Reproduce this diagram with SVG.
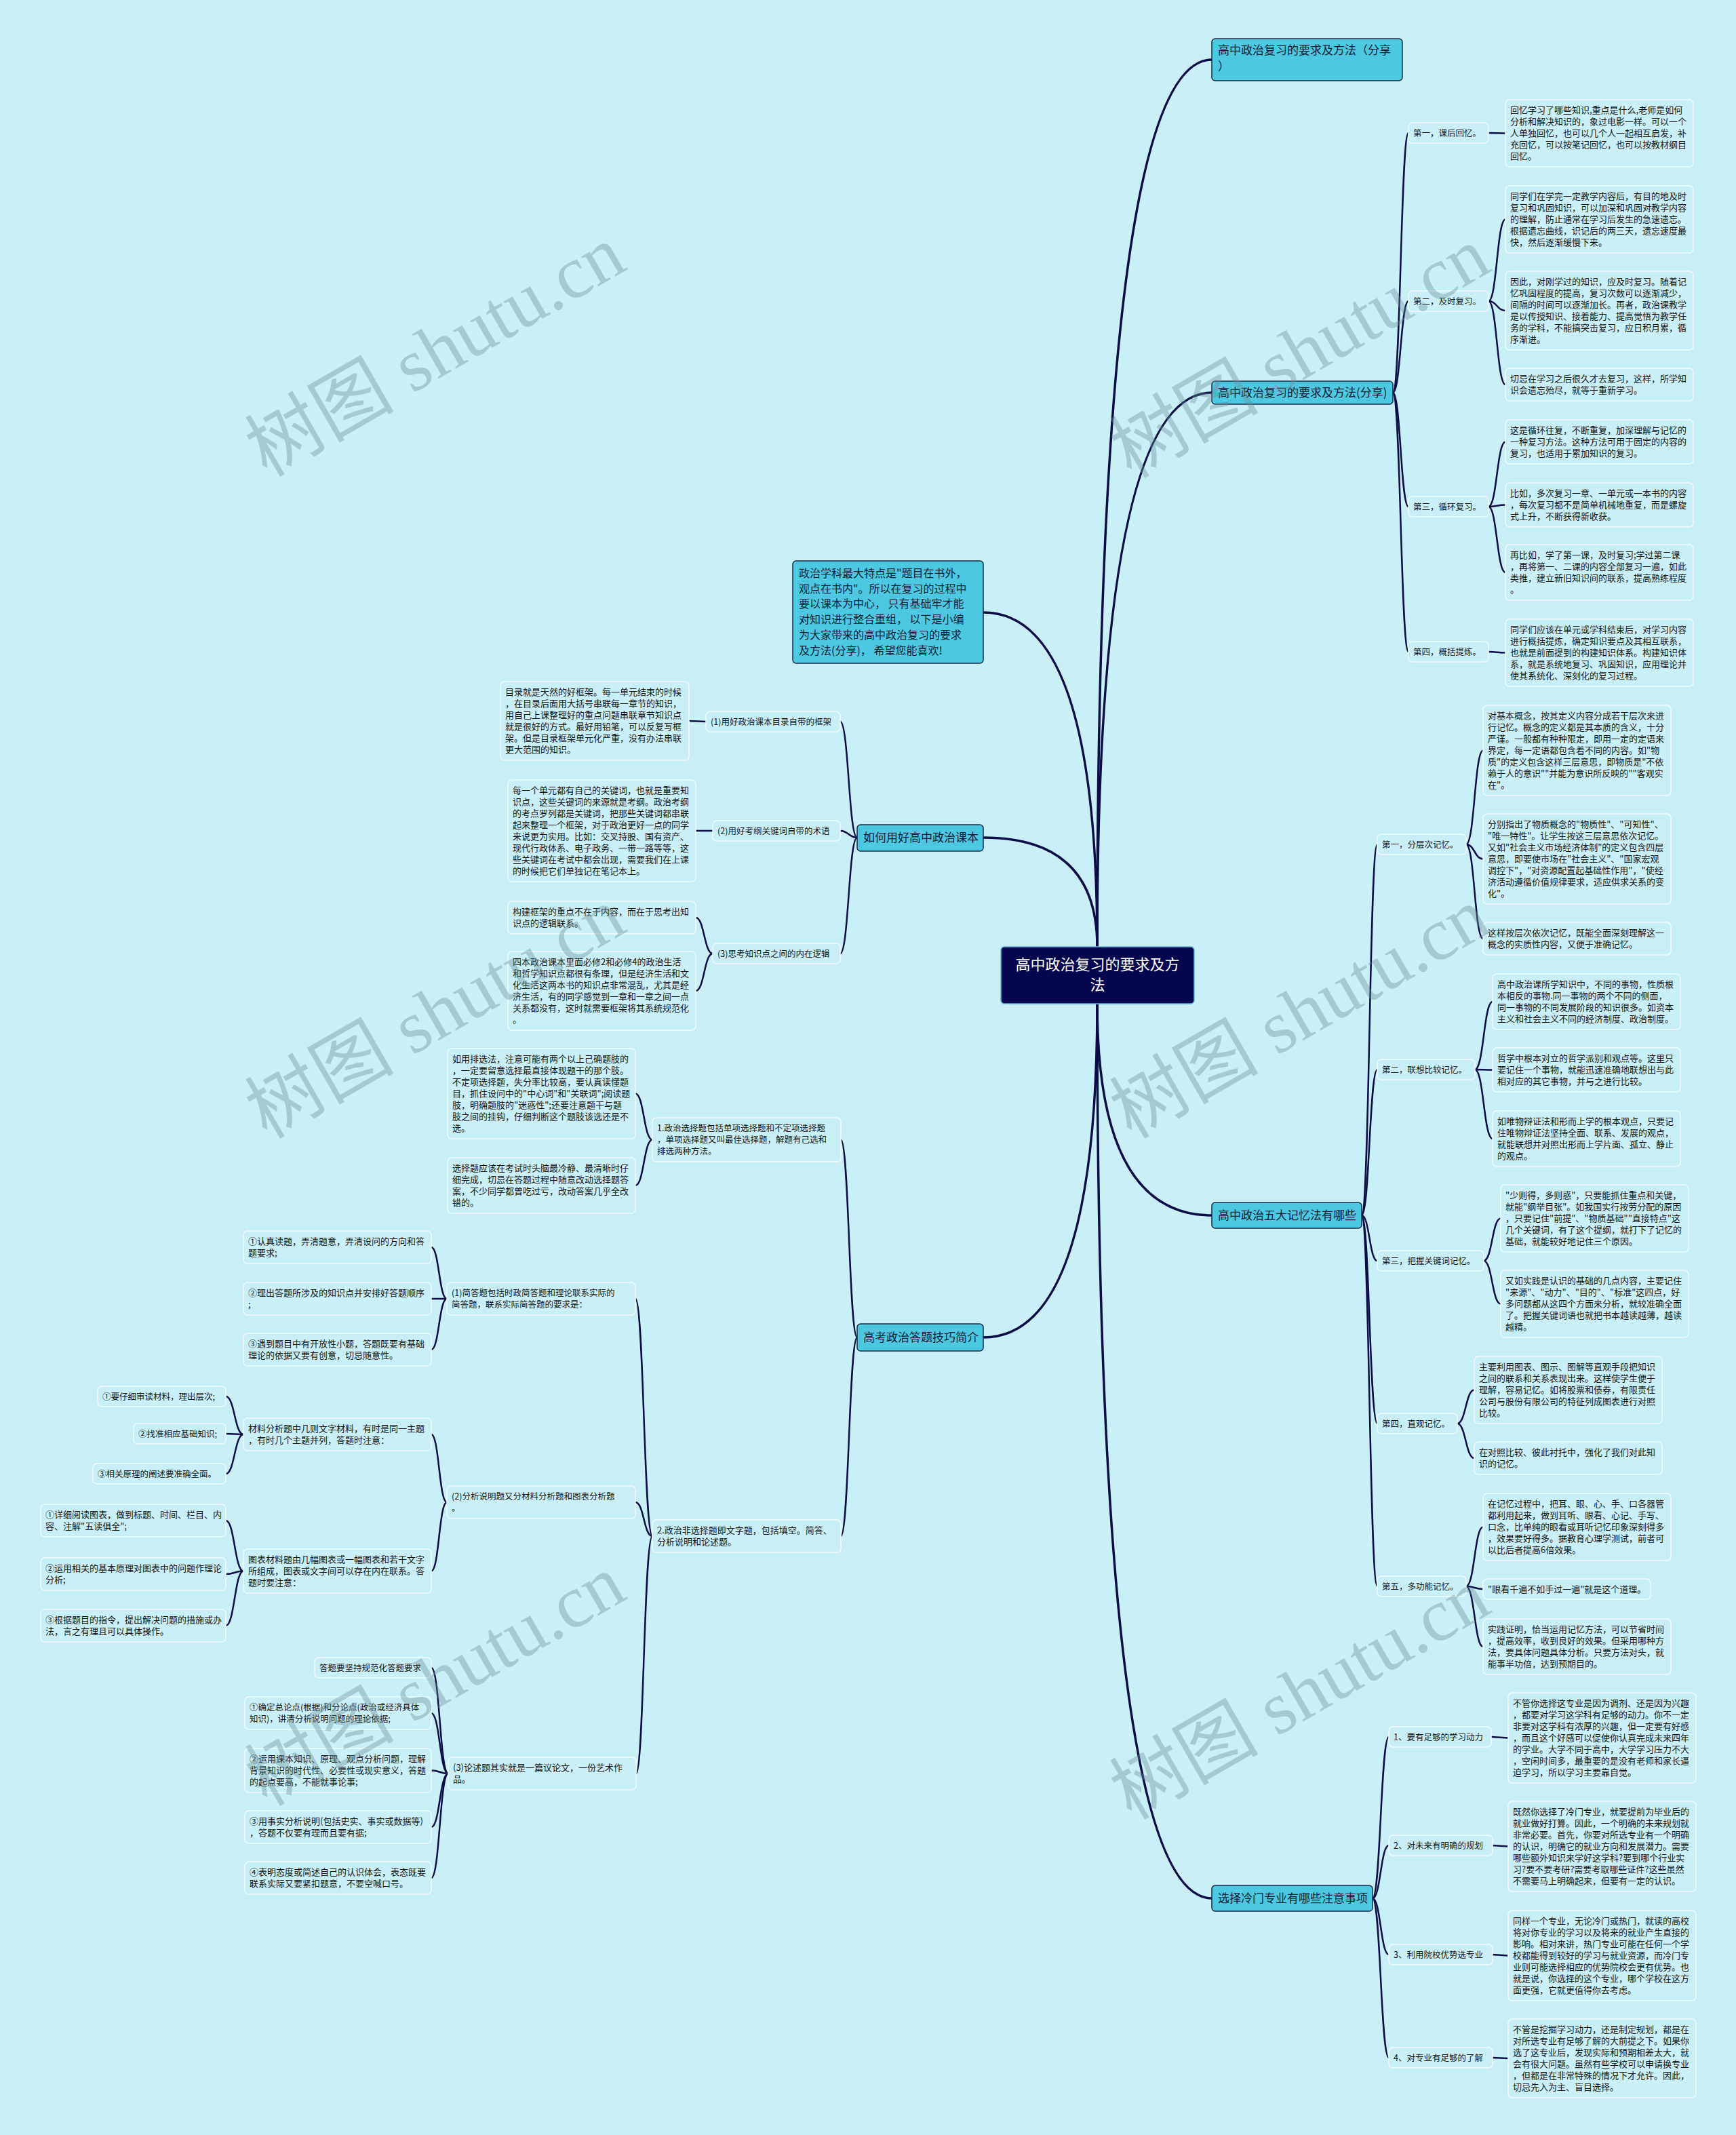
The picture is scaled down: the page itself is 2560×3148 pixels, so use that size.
<svg xmlns="http://www.w3.org/2000/svg" width="2560" height="3148" viewBox="0 0 2560 3148">
<style>
text{font-family:"Noto Sans CJK SC","Noto Sans",sans-serif;}
.t{font-size:13px;fill:#141414;}
.ts{font-size:12.5px;}
.tm{font-size:17px;fill:#0f1d33;}
.ti{font-size:16px;fill:#0f1d33;}
.tc{font-size:22px;fill:#ffffff;}
.lf{fill:#c9eff7;stroke:#f3fbfd;stroke-width:1.5;}
.mn{fill:#4cc8e2;stroke:#1a2944;stroke-width:1.5;}
.ct{fill:#06064e;stroke:#62b6d6;stroke-width:1.5;}
.ln{fill:none;stroke:#0d0d48;stroke-width:2.5;}
.lm{fill:none;stroke:#0d0d48;stroke-width:3.5;}
.wm{font-family:"Liberation Serif","Noto Sans CJK SC",serif;font-size:110px;fill:#6f8f94;opacity:0.38;}
</style>
<rect x="0" y="0" width="2560" height="3148" fill="#c9eff7"/>

<g id="connectors">
<path class="lm" d="M1618,1396 Q1618,88 1787,88"/>
<path class="lm" d="M1618,1396 Q1618,579 1787,579"/>
<path class="lm" d="M1618,1480 Q1618,1792 1787,1792"/>
<path class="lm" d="M1618,1480 Q1618,2799 1787,2799"/>
<path class="lm" d="M1618,1396 Q1618,903 1450,903"/>
<path class="lm" d="M1618,1396 Q1618,1235 1450,1235"/>
<path class="lm" d="M1618,1480 Q1618,1972 1450,1972"/>

<path class="ln" d="M2054,579 C2065.5,579 2065.5,196 2077,196"/>
<path class="ln" d="M2054,579 C2065.5,579 2065.5,444 2077,444"/>
<path class="ln" d="M2054,579 C2065.5,579 2065.5,747 2077,747"/>
<path class="ln" d="M2054,579 C2065.5,579 2065.5,961 2077,961"/>
<path class="ln" d="M2195,196 C2207.5,196 2207.5,196.5 2220,196.5"/>
<path class="ln" d="M2195,444 C2207.5,444 2207.5,323.5 2220,323.5"/>
<path class="ln" d="M2195,444 C2207.5,444 2207.5,458 2220,458"/>
<path class="ln" d="M2195,444 C2207.5,444 2207.5,567 2220,567"/>
<path class="ln" d="M2195,747 C2207.5,747 2207.5,651.5 2220,651.5"/>
<path class="ln" d="M2195,747 C2207.5,747 2207.5,744.5 2220,744.5"/>
<path class="ln" d="M2195,747 C2207.5,747 2207.5,844 2220,844"/>
<path class="ln" d="M2195,961 C2207.5,961 2207.5,962.5 2220,962.5"/>

<path class="ln" d="M2008,1792 C2019.5,1792 2019.5,1245 2031,1245"/>
<path class="ln" d="M2008,1792 C2019.5,1792 2019.5,1577 2031,1577"/>
<path class="ln" d="M2008,1792 C2019.5,1792 2019.5,1859 2031,1859"/>
<path class="ln" d="M2008,1792 C2019.5,1792 2019.5,2099 2031,2099"/>
<path class="ln" d="M2008,1792 C2019.5,1792 2019.5,2339 2031,2339"/>
<path class="ln" d="M2162,1245 C2174.5,1245 2174.5,1106.5 2187,1106.5"/>
<path class="ln" d="M2162,1245 C2174.5,1245 2174.5,1266.5 2187,1266.5"/>
<path class="ln" d="M2162,1245 C2174.5,1245 2174.5,1384 2187,1384"/>
<path class="ln" d="M2175,1577 C2188,1577 2188,1477 2201,1477"/>
<path class="ln" d="M2175,1577 C2188,1577 2188,1577.5 2201,1577.5"/>
<path class="ln" d="M2175,1577 C2188,1577 2188,1679 2201,1679"/>
<path class="ln" d="M2188,1859 C2200.5,1859 2200.5,1796.5 2213,1796.5"/>
<path class="ln" d="M2188,1859 C2200.5,1859 2200.5,1922.5 2213,1922.5"/>
<path class="ln" d="M2149,2099 C2161.5,2099 2161.5,2049.5 2174,2049.5"/>
<path class="ln" d="M2149,2099 C2161.5,2099 2161.5,2150 2174,2150"/>
<path class="ln" d="M2162,2339 C2174.5,2339 2174.5,2251.5 2187,2251.5"/>
<path class="ln" d="M2162,2339 C2174.5,2339 2174.5,2343 2187,2343"/>
<path class="ln" d="M2162,2339 C2174.5,2339 2174.5,2428 2187,2428"/>

<path class="ln" d="M2024,2799 C2036,2799 2036,2561 2048,2561"/>
<path class="ln" d="M2024,2799 C2036,2799 2036,2721 2048,2721"/>
<path class="ln" d="M2024,2799 C2036,2799 2036,2882 2048,2882"/>
<path class="ln" d="M2024,2799 C2036,2799 2036,3034 2048,3034"/>
<path class="ln" d="M2199,2561 L2224,2562.5"/>
<path class="ln" d="M2201,2721 L2224,2722.5"/>
<path class="ln" d="M2201,2882 L2224,2883.5"/>
<path class="ln" d="M2201,3034 L2224,3035"/>

<path class="ln" d="M1264,1235 C1251.5,1235 1251.5,1064 1239,1064"/>
<path class="ln" d="M1264,1235 C1251.5,1235 1251.5,1225 1239,1225"/>
<path class="ln" d="M1264,1235 C1251.5,1235 1251.5,1406 1239,1406"/>
<path class="ln" d="M1041,1064 L1016,1063"/>
<path class="ln" d="M1051,1225 L1026,1225"/>
<path class="ln" d="M1051,1406 C1038.5,1406 1038.5,1353 1026,1353"/>
<path class="ln" d="M1051,1406 C1038.5,1406 1038.5,1461 1026,1461"/>

<path class="ln" d="M1264,1972 C1252,1972 1252,1680.5 1240,1680.5"/>
<path class="ln" d="M1264,1972 C1252,1972 1252,2265 1240,2265"/>
<path class="ln" d="M962,1680.5 C949.5,1680.5 949.5,1612.5 937,1612.5"/>
<path class="ln" d="M962,1680.5 C949.5,1680.5 949.5,1748 937,1748"/>
<path class="ln" d="M962,2265 C949.5,2265 949.5,1915 937,1915"/>
<path class="ln" d="M962,2265 C949.5,2265 949.5,2215 937,2215"/>
<path class="ln" d="M962,2265 C949.5,2265 949.5,2615 938,2615"/>
<path class="ln" d="M659,1915 C647.5,1915 647.5,1839 636,1839"/>
<path class="ln" d="M659,1915 L636,1915"/>
<path class="ln" d="M659,1915 C647.5,1915 647.5,1990 636,1990"/>
<path class="ln" d="M659,2215 C647.5,2215 647.5,2115 636,2115"/>
<path class="ln" d="M659,2215 C647.5,2215 647.5,2316.5 636,2316.5"/>
<path class="ln" d="M359,2115 C346,2115 346,2059 333,2059"/>
<path class="ln" d="M359,2115 L333,2114"/>
<path class="ln" d="M359,2115 C346,2115 346,2173 333,2173"/>
<path class="ln" d="M359,2316.5 C346,2316.5 346,2242 333,2242"/>
<path class="ln" d="M359,2316.5 C346,2316.5 346,2321 333,2321"/>
<path class="ln" d="M359,2316.5 C346,2316.5 346,2397 333,2397"/>
<path class="ln" d="M661,2615 C648.5,2615 648.5,2459 636,2459"/>
<path class="ln" d="M661,2615 C648.5,2615 648.5,2526 636,2526"/>
<path class="ln" d="M661,2615 C648.5,2615 648.5,2610.5 636,2610.5"/>
<path class="ln" d="M661,2615 C648.5,2615 648.5,2694 636,2694"/>
<path class="ln" d="M661,2615 C648.5,2615 648.5,2769 636,2769"/>
</g>

<g id="center"><rect class="ct" x="1476" y="1396" width="285" height="84" rx="5"/><text class="tc" x="1618.5" y="1430" text-anchor="middle"><tspan x="1618.5">高中政治复习的要求及方</tspan><tspan x="1618.5" dy="30">法</tspan></text></g>

<g id="mainA"><rect class="mn" x="1787" y="57" width="281" height="62" rx="5"/><text class="tm" x="1796" y="80"><tspan x="1796">高中政治复习的要求及方法（分享</tspan><tspan x="1796" dy="24">）</tspan></text></g>
<g id="mainB"><rect class="mn" x="1787" y="562" width="267" height="34" rx="5"/><text class="tm" x="1796" y="585">高中政治复习的要求及方法(分享)</text></g>
<g id="mainC"><rect class="mn" x="1787" y="1773" width="221" height="38" rx="5"/><text class="tm" x="1796" y="1798">高中政治五大记忆法有哪些</text></g>
<g id="mainD"><rect class="mn" x="1787" y="2780" width="237" height="38" rx="5"/><text class="tm" x="1796" y="2805">选择冷门专业有哪些注意事项</text></g>
<g id="intro"><rect class="mn" x="1169" y="827" width="281" height="151" rx="5"/><text class="ti" x="1178" y="851"><tspan x="1178">政治学科最大特点是"题目在书外，</tspan><tspan x="1178" dy="22.7">观点在书内"。所以在复习的过程中</tspan><tspan x="1178" dy="22.7">要以课本为中心， 只有基础牢才能</tspan><tspan x="1178" dy="22.7">对知识进行整合重组， 以下是小编</tspan><tspan x="1178" dy="22.7">为大家带来的高中政治复习的要求</tspan><tspan x="1178" dy="22.7">及方法(分享)， 希望您能喜欢!</tspan></text></g>
<g id="mainF"><rect class="mn" x="1264" y="1216" width="186" height="39" rx="5"/><text class="tm" x="1273" y="1241">如何用好高中政治课本</text></g>
<g id="mainG"><rect class="mn" x="1264" y="1952" width="186" height="40" rx="5"/><text class="tm" x="1273" y="1978">高考政治答题技巧简介</text></g>

<g id="b1"><rect class="lf" x="2077" y="181" width="118" height="30" rx="6"/><text class="t ts" x="2084" y="201">第一，课后回忆。</text></g>
<g id="b1l"><rect class="lf" x="2220" y="147" width="277" height="99" rx="6"/><text class="t" x="2227" y="167"><tspan x="2227">回忆学习了哪些知识,重点是什么,老师是如何</tspan><tspan x="2227" dy="17">分析和解决知识的，象过电影一样。可以一个</tspan><tspan x="2227" dy="17">人单独回忆，也可以几个人一起相互启发，补</tspan><tspan x="2227" dy="17">充回忆，可以按笔记回忆，也可以按教材纲目</tspan><tspan x="2227" dy="17">回忆。</tspan></text></g>
<g id="b2"><rect class="lf" x="2077" y="429" width="118" height="30" rx="6"/><text class="t ts" x="2084" y="449">第二，及时复习。</text></g>
<g id="b2l1"><rect class="lf" x="2220" y="274" width="277" height="99" rx="6"/><text class="t" x="2227" y="294"><tspan x="2227">同学们在学完一定教学内容后，有目的地及时</tspan><tspan x="2227" dy="17">复习和巩固知识，可以加深和巩固对教学内容</tspan><tspan x="2227" dy="17">的理解，防止通常在学习后发生的急速遗忘。</tspan><tspan x="2227" dy="17">根据遗忘曲线，识记后的两三天，遗忘速度最</tspan><tspan x="2227" dy="17">快，然后逐渐缓慢下来。</tspan></text></g>
<g id="b2l2"><rect class="lf" x="2220" y="400" width="277" height="116" rx="6"/><text class="t" x="2227" y="420"><tspan x="2227">因此，对刚学过的知识，应及时复习。随着记</tspan><tspan x="2227" dy="17">忆巩固程度的提高，复习次数可以逐渐减少，</tspan><tspan x="2227" dy="17">间隔的时间可以逐渐加长。再者，政治课教学</tspan><tspan x="2227" dy="17">是以传授知识、接着能力、提高觉悟为教学任</tspan><tspan x="2227" dy="17">务的学科，不能搞突击复习，应日积月累，循</tspan><tspan x="2227" dy="17">序渐进。</tspan></text></g>
<g id="b2l3"><rect class="lf" x="2220" y="543" width="277" height="48" rx="6"/><text class="t" x="2227" y="563"><tspan x="2227">切忌在学习之后很久才去复习，这样，所学知</tspan><tspan x="2227" dy="17">识会遗忘殆尽，就等于重新学习。</tspan></text></g>
<g id="b3"><rect class="lf" x="2077" y="732" width="118" height="30" rx="6"/><text class="t ts" x="2084" y="752">第三，循环复习。</text></g>
<g id="b3l1"><rect class="lf" x="2220" y="619" width="277" height="65" rx="6"/><text class="t" x="2227" y="639"><tspan x="2227">这是循环往复，不断重复，加深理解与记忆的</tspan><tspan x="2227" dy="17">一种复习方法。这种方法可用于固定的内容的</tspan><tspan x="2227" dy="17">复习，也适用于累加知识的复习。</tspan></text></g>
<g id="b3l2"><rect class="lf" x="2220" y="712" width="277" height="65" rx="6"/><text class="t" x="2227" y="732"><tspan x="2227">比如，多次复习一章、一单元或一本书的内容</tspan><tspan x="2227" dy="17">，每次复习都不是简单机械地重复，而是螺旋</tspan><tspan x="2227" dy="17">式上升，不断获得新收获。</tspan></text></g>
<g id="b3l3"><rect class="lf" x="2220" y="803" width="277" height="82" rx="6"/><text class="t" x="2227" y="823"><tspan x="2227">再比如，学了第一课，及时复习;学过第二课</tspan><tspan x="2227" dy="17">，再将第一、二课的内容全部复习一遍，如此</tspan><tspan x="2227" dy="17">类推，建立新旧知识间的联系，提高熟练程度</tspan><tspan x="2227" dy="17">。</tspan></text></g>
<g id="b4"><rect class="lf" x="2077" y="946" width="118" height="30" rx="6"/><text class="t ts" x="2084" y="966">第四，概括提炼。</text></g>
<g id="b4l"><rect class="lf" x="2220" y="913" width="277" height="99" rx="6"/><text class="t" x="2227" y="933"><tspan x="2227">同学们应该在单元或学科结束后，对学习内容</tspan><tspan x="2227" dy="17">进行概括提炼，确定知识要点及其相互联系，</tspan><tspan x="2227" dy="17">也就是前面提到的构建知识体系。构建知识体</tspan><tspan x="2227" dy="17">系，就是系统地复习、巩固知识，应用理论并</tspan><tspan x="2227" dy="17">使其系统化、深刻化的复习过程。</tspan></text></g>

<g id="c1"><rect class="lf" x="2031" y="1230" width="131" height="30" rx="6"/><text class="t ts" x="2038" y="1250">第一，分层次记忆。</text></g>
<g id="c1l1"><rect class="lf" x="2187" y="1040" width="277" height="133" rx="6"/><text class="t" x="2194" y="1060"><tspan x="2194">对基本概念，按其定义内容分成若干层次来进</tspan><tspan x="2194" dy="17">行记忆。概念的定义都是其本质的含义，十分</tspan><tspan x="2194" dy="17">严谨。一般都有种种限定，即用一定的定语来</tspan><tspan x="2194" dy="17">界定，每一定语都包含着不同的内容。如"物</tspan><tspan x="2194" dy="17">质"的定义包含这样三层意思，即物质是"不依</tspan><tspan x="2194" dy="17">赖于人的意识""并能为意识所反映的""客观实</tspan><tspan x="2194" dy="17">在"。</tspan></text></g>
<g id="c1l2"><rect class="lf" x="2187" y="1200" width="277" height="133" rx="6"/><text class="t" x="2194" y="1220"><tspan x="2194">分别指出了物质概念的"物质性"、"可知性"、</tspan><tspan x="2194" dy="17">"唯一特性"。让学生按这三层意思依次记忆。</tspan><tspan x="2194" dy="17">又如"社会主义市场经济体制"的定义包含四层</tspan><tspan x="2194" dy="17">意思，即要使市场在"社会主义"、"国家宏观</tspan><tspan x="2194" dy="17">调控下"，"对资源配置起基础性作用"，"使经</tspan><tspan x="2194" dy="17">济活动遵循价值规律要求，适应供求关系的变</tspan><tspan x="2194" dy="17">化"。</tspan></text></g>
<g id="c1l3"><rect class="lf" x="2187" y="1360" width="277" height="48" rx="6"/><text class="t" x="2194" y="1380"><tspan x="2194">这样按层次依次记忆，既能全面深刻理解这一</tspan><tspan x="2194" dy="17">概念的实质性内容，又便于准确记忆。</tspan></text></g>
<g id="c2"><rect class="lf" x="2031" y="1562" width="144" height="30" rx="6"/><text class="t ts" x="2038" y="1582">第二，联想比较记忆。</text></g>
<g id="c2l1"><rect class="lf" x="2201" y="1436" width="277" height="82" rx="6"/><text class="t" x="2208" y="1456"><tspan x="2208">高中政治课所学知识中，不同的事物，性质根</tspan><tspan x="2208" dy="17">本相反的事物.同一事物的两个不同的侧面，</tspan><tspan x="2208" dy="17">同一事物的不同发展阶段的知识很多。如资本</tspan><tspan x="2208" dy="17">主义和社会主义不同的经济制度、政治制度。</tspan></text></g>
<g id="c2l2"><rect class="lf" x="2201" y="1545" width="277" height="65" rx="6"/><text class="t" x="2208" y="1565"><tspan x="2208">哲学中根本对立的哲学派别和观点等。这里只</tspan><tspan x="2208" dy="17">要记住一个事物，就能迅速准确地联想出与此</tspan><tspan x="2208" dy="17">相对应的其它事物，并与之进行比较。</tspan></text></g>
<g id="c2l3"><rect class="lf" x="2201" y="1638" width="277" height="82" rx="6"/><text class="t" x="2208" y="1658"><tspan x="2208">如唯物辩证法和形而上学的根本观点，只要记</tspan><tspan x="2208" dy="17">住唯物辩证法坚持全面、联系、发展的观点，</tspan><tspan x="2208" dy="17">就能联想并对照出形而上学片面、孤立、静止</tspan><tspan x="2208" dy="17">的观点。</tspan></text></g>
<g id="c3"><rect class="lf" x="2031" y="1844" width="157" height="30" rx="6"/><text class="t ts" x="2038" y="1864">第三，把握关键词记忆。</text></g>
<g id="c3l1"><rect class="lf" x="2213" y="1747" width="277" height="99" rx="6"/><text class="t" x="2220" y="1767"><tspan x="2220">"少则得，多则惑"，只要能抓住重点和关键，</tspan><tspan x="2220" dy="17">就能"纲举目张"。如我国实行按劳分配的原因</tspan><tspan x="2220" dy="17">，只要记住"前提"、"物质基础""直接特点"这</tspan><tspan x="2220" dy="17">几个关键词，有了这个提纲，就打下了记忆的</tspan><tspan x="2220" dy="17">基础，就能较好地记住三个原因。</tspan></text></g>
<g id="c3l2"><rect class="lf" x="2213" y="1873" width="277" height="99" rx="6"/><text class="t" x="2220" y="1893"><tspan x="2220">又如实践是认识的基础的几点内容，主要记住</tspan><tspan x="2220" dy="17">"来源"、"动力"、"目的"、"标准"这四点，好</tspan><tspan x="2220" dy="17">多问题都从这四个方面来分析，就较准确全面</tspan><tspan x="2220" dy="17">了。把握关键词语也就把书本越读越薄，越读</tspan><tspan x="2220" dy="17">越精。</tspan></text></g>
<g id="c4"><rect class="lf" x="2031" y="2084" width="118" height="30" rx="6"/><text class="t ts" x="2038" y="2104">第四，直观记忆。</text></g>
<g id="c4l1"><rect class="lf" x="2174" y="2000" width="277" height="99" rx="6"/><text class="t" x="2181" y="2020"><tspan x="2181">主要利用图表、图示、图解等直观手段把知识</tspan><tspan x="2181" dy="17">之间的联系和关系表现出来。这样使学生便于</tspan><tspan x="2181" dy="17">理解，容易记忆。如将股票和债券，有限责任</tspan><tspan x="2181" dy="17">公司与股份有限公司的特征列成图表进行对照</tspan><tspan x="2181" dy="17">比较。</tspan></text></g>
<g id="c4l2"><rect class="lf" x="2174" y="2126" width="277" height="48" rx="6"/><text class="t" x="2181" y="2146"><tspan x="2181">在对照比较、彼此衬托中，强化了我们对此知</tspan><tspan x="2181" dy="17">识的记忆。</tspan></text></g>
<g id="c5"><rect class="lf" x="2031" y="2324" width="131" height="30" rx="6"/><text class="t ts" x="2038" y="2344">第五，多功能记忆。</text></g>
<g id="c5l1"><rect class="lf" x="2187" y="2202" width="277" height="99" rx="6"/><text class="t" x="2194" y="2222"><tspan x="2194">在记忆过程中，把耳、眼、心、手、口各器管</tspan><tspan x="2194" dy="17">都利用起来，做到耳听、眼看、心记、手写、</tspan><tspan x="2194" dy="17">口念，比单纯的眼看或耳听记忆印象深刻得多</tspan><tspan x="2194" dy="17">，效果要好得多。据教育心理学测试，前者可</tspan><tspan x="2194" dy="17">以比后者提高6倍效果。</tspan></text></g>
<g id="c5l2"><rect class="lf" x="2187" y="2328" width="247" height="30" rx="6"/><text class="t" x="2194" y="2348">"眼看千遍不如手过一遍"就是这个道理。</text></g>
<g id="c5l3"><rect class="lf" x="2187" y="2387" width="277" height="82" rx="6"/><text class="t" x="2194" y="2407"><tspan x="2194">实践证明，恰当运用记忆方法，可以节省时间</tspan><tspan x="2194" dy="17">，提高效率，收到良好的效果。但采用哪种方</tspan><tspan x="2194" dy="17">法，要具体问题具体分析。只要方法对头，就</tspan><tspan x="2194" dy="17">能事半功倍，达到预期目的。</tspan></text></g>

<g id="d1"><rect class="lf" x="2048" y="2546" width="151" height="30" rx="6"/><text class="t ts" x="2055" y="2566">1、要有足够的学习动力</text></g>
<g id="d1l"><rect class="lf" x="2224" y="2496" width="277" height="133" rx="6"/><text class="t" x="2231" y="2516"><tspan x="2231">不管你选择这专业是因为调剂、还是因为兴趣</tspan><tspan x="2231" dy="17">，都要对学习这学科有足够的动力。你不一定</tspan><tspan x="2231" dy="17">非要对这学科有浓厚的兴趣，但一定要有好感</tspan><tspan x="2231" dy="17">，而且这个好感可以促使你认真完成未来四年</tspan><tspan x="2231" dy="17">的学业。大学不同于高中，大学学习压力不大</tspan><tspan x="2231" dy="17">，空闲时间多，最重要的是没有老师和家长逼</tspan><tspan x="2231" dy="17">迫学习，所以学习主要靠自觉。</tspan></text></g>
<g id="d2"><rect class="lf" x="2048" y="2706" width="153" height="30" rx="6"/><text class="t ts" x="2055" y="2726">2、对未来有明确的规划</text></g>
<g id="d2l"><rect class="lf" x="2224" y="2656" width="277" height="133" rx="6"/><text class="t" x="2231" y="2676"><tspan x="2231">既然你选择了冷门专业，就要提前为毕业后的</tspan><tspan x="2231" dy="17">就业做好打算。因此，一个明确的未来规划就</tspan><tspan x="2231" dy="17">非常必要。首先，你要对所选专业有一个明确</tspan><tspan x="2231" dy="17">的认识，明确它的就业方向和发展潜力。需要</tspan><tspan x="2231" dy="17">哪些额外知识来学好这学科?要到哪个行业实</tspan><tspan x="2231" dy="17">习?要不要考研?需要考取哪些证件?这些虽然</tspan><tspan x="2231" dy="17">不需要马上明确起来，但要有一定的认识。</tspan></text></g>
<g id="d3"><rect class="lf" x="2048" y="2867" width="153" height="30" rx="6"/><text class="t ts" x="2055" y="2887">3、利用院校优势选专业</text></g>
<g id="d3l"><rect class="lf" x="2224" y="2817" width="277" height="133" rx="6"/><text class="t" x="2231" y="2837"><tspan x="2231">同样一个专业，无论冷门或热门，就读的高校</tspan><tspan x="2231" dy="17">将对你专业的学习以及将来的就业产生直接的</tspan><tspan x="2231" dy="17">影响。相对来讲，热门专业可能在任何一个学</tspan><tspan x="2231" dy="17">校都能得到较好的学习与就业资源，而冷门专</tspan><tspan x="2231" dy="17">业则可能选择相应的优势院校会更有优势。也</tspan><tspan x="2231" dy="17">就是说，你选择的这个专业，哪个学校在这方</tspan><tspan x="2231" dy="17">面更强，它就更值得你去考虑。</tspan></text></g>
<g id="d4"><rect class="lf" x="2048" y="3019" width="153" height="30" rx="6"/><text class="t ts" x="2055" y="3039">4、对专业有足够的了解</text></g>
<g id="d4l"><rect class="lf" x="2224" y="2977" width="277" height="116" rx="6"/><text class="t" x="2231" y="2997"><tspan x="2231">不管是挖掘学习动力，还是制定规划，都是在</tspan><tspan x="2231" dy="17">对所选专业有足够了解的大前提之下。如果你</tspan><tspan x="2231" dy="17">选了这专业后，发现实际和预期相差太大，就</tspan><tspan x="2231" dy="17">会有很大问题。虽然有些学校可以申请换专业</tspan><tspan x="2231" dy="17">，但都是在非常特殊的情况下才允许。因此，</tspan><tspan x="2231" dy="17">切忌先入为主、盲目选择。</tspan></text></g>

<g id="f1"><rect class="lf" x="1041" y="1049" width="198" height="30" rx="6"/><text class="t ts" x="1048" y="1069">(1)用好政治课本目录自带的框架</text></g>
<g id="f1l"><rect class="lf" x="738" y="1005" width="278" height="116" rx="6"/><text class="t" x="745" y="1025"><tspan x="745">目录就是天然的好框架。每一单元结束的时候</tspan><tspan x="745" dy="17">，在目录后面用大括号串联每一章节的知识，</tspan><tspan x="745" dy="17">用自己上课整理好的重点问题串联章节知识点</tspan><tspan x="745" dy="17">就是很好的方式。最好用铅笔，可以反复写框</tspan><tspan x="745" dy="17">架。但是目录框架单元化严重，没有办法串联</tspan><tspan x="745" dy="17">更大范围的知识。</tspan></text></g>
<g id="f2"><rect class="lf" x="1051" y="1210" width="188" height="30" rx="6"/><text class="t ts" x="1058" y="1230">(2)用好考纲关键词自带的术语</text></g>
<g id="f2l"><rect class="lf" x="749" y="1150" width="277" height="150" rx="6"/><text class="t" x="756" y="1170"><tspan x="756">每一个单元都有自己的关键词，也就是重要知</tspan><tspan x="756" dy="17">识点，这些关键词的来源就是考纲。政治考纲</tspan><tspan x="756" dy="17">的考点罗列都是关键词，把那些关键词都串联</tspan><tspan x="756" dy="17">起来整理一个框架，对于政治更好一点的同学</tspan><tspan x="756" dy="17">来说更为实用。比如：交叉持股、国有资产、</tspan><tspan x="756" dy="17">现代行政体系、电子政务、一带一路等等，这</tspan><tspan x="756" dy="17">些关键词在考试中都会出现，需要我们在上课</tspan><tspan x="756" dy="17">的时候把它们单独记在笔记本上。</tspan></text></g>
<g id="f3"><rect class="lf" x="1051" y="1391" width="188" height="30" rx="6"/><text class="t ts" x="1058" y="1411">(3)思考知识点之间的内在逻辑</text></g>
<g id="f3la"><rect class="lf" x="749" y="1329" width="277" height="48" rx="6"/><text class="t" x="756" y="1349"><tspan x="756">构建框架的重点不在于内容，而在于思考出知</tspan><tspan x="756" dy="17">识点的逻辑联系。</tspan></text></g>
<g id="f3lb"><rect class="lf" x="749" y="1403" width="277" height="116" rx="6"/><text class="t" x="756" y="1423"><tspan x="756">四本政治课本里面必修2和必修4的政治生活</tspan><tspan x="756" dy="17">和哲学知识点都很有条理，但是经济生活和文</tspan><tspan x="756" dy="17">化生活这两本书的知识点非常混乱，尤其是经</tspan><tspan x="756" dy="17">济生活，有的同学感觉到一章和一章之间一点</tspan><tspan x="756" dy="17">关系都没有，这时就需要框架将其系统规范化</tspan><tspan x="756" dy="17">。</tspan></text></g>

<g id="g1"><rect class="lf" x="962" y="1648" width="278" height="65" rx="6"/><text class="t ts" x="969" y="1668"><tspan x="969">1.政治选择题包括单项选择题和不定项选择题</tspan><tspan x="969" dy="17">，单项选择题又叫最佳选择题，解题有己选和</tspan><tspan x="969" dy="17">排选两种方法。</tspan></text></g>
<g id="g1a"><rect class="lf" x="660" y="1546" width="277" height="133" rx="6"/><text class="t" x="667" y="1566"><tspan x="667">如用排选法，注意可能有两个以上己确题肢的</tspan><tspan x="667" dy="17">，一定要留意选择最直接体现题干的那个肢。</tspan><tspan x="667" dy="17">不定项选择题，失分率比较高，要认真读懂题</tspan><tspan x="667" dy="17">目，抓住设问中的"中心词"和"关联词";阅读题</tspan><tspan x="667" dy="17">肢，明确题肢的"迷惑性";还要注意题干与题</tspan><tspan x="667" dy="17">肢之间的挂钩，仔细判断这个题肢该选还是不</tspan><tspan x="667" dy="17">选。</tspan></text></g>
<g id="g1b"><rect class="lf" x="660" y="1707" width="277" height="82" rx="6"/><text class="t" x="667" y="1727"><tspan x="667">选择题应该在考试时头脑最冷静、最清晰时仔</tspan><tspan x="667" dy="17">细完成，切忌在答题过程中随意改动选择题答</tspan><tspan x="667" dy="17">案，不少同学都曾吃过亏，改动答案几乎全改</tspan><tspan x="667" dy="17">错的。</tspan></text></g>
<g id="g2"><rect class="lf" x="962" y="2241" width="278" height="48" rx="6"/><text class="t" x="969" y="2261"><tspan x="969">2.政治非选择题即文字题，包括填空。简答、</tspan><tspan x="969" dy="17">分析说明和论述题。</tspan></text></g>
<g id="g21"><rect class="lf" x="659" y="1891" width="278" height="48" rx="6"/><text class="t ts" x="666" y="1911"><tspan x="666">(1)简答题包括时政简答题和理论联系实际的</tspan><tspan x="666" dy="17">简答题，联系实际简答题的要求是：</tspan></text></g>
<g id="g21a"><rect class="lf" x="359" y="1815" width="277" height="48" rx="6"/><text class="t" x="366" y="1835"><tspan x="366">①认真读题，弄清题意，弄清设问的方向和答</tspan><tspan x="366" dy="17">题要求;</tspan></text></g>
<g id="g21b"><rect class="lf" x="359" y="1891" width="277" height="48" rx="6"/><text class="t" x="366" y="1911"><tspan x="366">②理出答题所涉及的知识点并安排好答题顺序</tspan><tspan x="366" dy="17">;</tspan></text></g>
<g id="g21c"><rect class="lf" x="359" y="1966" width="277" height="48" rx="6"/><text class="t" x="366" y="1986"><tspan x="366">③遇到题目中有开放性小题，答题既要有基础</tspan><tspan x="366" dy="17">理论的依据又要有创意，切忌随意性。</tspan></text></g>
<g id="g22"><rect class="lf" x="659" y="2191" width="278" height="48" rx="6"/><text class="t ts" x="666" y="2211"><tspan x="666">(2)分析说明题又分材料分析题和图表分析题</tspan><tspan x="666" dy="17">。</tspan></text></g>
<g id="g22a"><rect class="lf" x="359" y="2091" width="277" height="48" rx="6"/><text class="t" x="366" y="2111"><tspan x="366">材料分析题中几则文字材料，有时是同一主题</tspan><tspan x="366" dy="17">，有时几个主题并列，答题时注意：</tspan></text></g>
<g id="g22a1"><rect class="lf" x="144" y="2044" width="189" height="30" rx="6"/><text class="t ts" x="151" y="2064">①要仔细审读材料，理出层次;</text></g>
<g id="g22a2"><rect class="lf" x="197" y="2099" width="136" height="30" rx="6"/><text class="t ts" x="204" y="2119">②找准相应基础知识;</text></g>
<g id="g22a3"><rect class="lf" x="137" y="2158" width="196" height="30" rx="6"/><text class="t ts" x="144" y="2178">③相关原理的阐述要准确全面。</text></g>
<g id="g22b"><rect class="lf" x="359" y="2284" width="277" height="65" rx="6"/><text class="t" x="366" y="2304"><tspan x="366">图表材料题由几幅图表或一幅图表和若干文字</tspan><tspan x="366" dy="17">所组成，图表或文字间可以存在内在联系。答</tspan><tspan x="366" dy="17">题时要注意：</tspan></text></g>
<g id="g22b1"><rect class="lf" x="60" y="2218" width="273" height="48" rx="6"/><text class="t" x="67" y="2238"><tspan x="67">①详细阅读图表，做到标题、时间、栏目、内</tspan><tspan x="67" dy="17">容、注解"五读俱全";</tspan></text></g>
<g id="g22b2"><rect class="lf" x="60" y="2297" width="273" height="48" rx="6"/><text class="t" x="67" y="2317"><tspan x="67">②运用相关的基本原理对图表中的问题作理论</tspan><tspan x="67" dy="17">分析;</tspan></text></g>
<g id="g22b3"><rect class="lf" x="60" y="2373" width="273" height="48" rx="6"/><text class="t" x="67" y="2393"><tspan x="67">③根据题目的指令，提出解决问题的措施或办</tspan><tspan x="67" dy="17">法，言之有理且可以具体操作。</tspan></text></g>
<g id="g23"><rect class="lf" x="661" y="2591" width="277" height="48" rx="6"/><text class="t" x="668" y="2611"><tspan x="668">(3)论述题其实就是一篇议论文，一份艺术作</tspan><tspan x="668" dy="17">品。</tspan></text></g>
<g id="g23a"><rect class="lf" x="464" y="2444" width="172" height="30" rx="6"/><text class="t ts" x="471" y="2464">答题要坚持规范化答题要求</text></g>
<g id="g23b"><rect class="lf" x="361" y="2502" width="275" height="48" rx="6"/><text class="t ts" x="368" y="2522"><tspan x="368">①确定总论点(根据)和分论点(政治或经济具体</tspan><tspan x="368" dy="17">知识)，讲清分析说明问题的理论依据;</tspan></text></g>
<g id="g23c"><rect class="lf" x="361" y="2578" width="275" height="65" rx="6"/><text class="t" x="368" y="2598"><tspan x="368">②运用课本知识、原理、观点分析问题，理解</tspan><tspan x="368" dy="17">背景知识的时代性、必要性或现实意义，答题</tspan><tspan x="368" dy="17">的起点要高，不能就事论事;</tspan></text></g>
<g id="g23d"><rect class="lf" x="361" y="2670" width="275" height="48" rx="6"/><text class="t" x="368" y="2690"><tspan x="368">③用事实分析说明(包括史实、事实或数据等)</tspan><tspan x="368" dy="17">，答题不仅要有理而且要有据;</tspan></text></g>
<g id="g23e"><rect class="lf" x="361" y="2745" width="275" height="48" rx="6"/><text class="t" x="368" y="2765"><tspan x="368">④表明态度或简述自己的认识体会，表态既要</tspan><tspan x="368" dy="17">联系实际又要紧扣题意，不要空喊口号。</tspan></text></g>

<g id="watermark" text-anchor="middle">
<text class="wm" x="643" y="555" transform="rotate(-30 643 520)">树图 shutu.cn</text>
<text class="wm" x="1918" y="557" transform="rotate(-30 1918 522)">树图 shutu.cn</text>
<text class="wm" x="643" y="1531" transform="rotate(-30 643 1496)">树图 shutu.cn</text>
<text class="wm" x="1918" y="1531" transform="rotate(-30 1918 1496)">树图 shutu.cn</text>
<text class="wm" x="643" y="2515" transform="rotate(-30 643 2480)">树图 shutu.cn</text>
<text class="wm" x="1918" y="2535" transform="rotate(-30 1918 2500)">树图 shutu.cn</text>
</g>
</svg>
